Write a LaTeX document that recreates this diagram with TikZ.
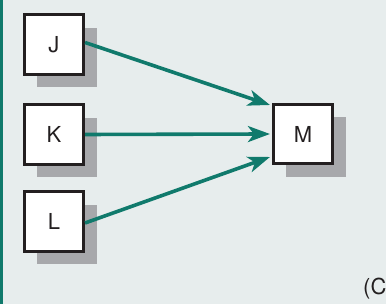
\documentclass[tikz,border=0pt]{standalone}
\usepackage{fontspec}
\setmainfont{TeX Gyre Heros}
\usepackage{tikz}
\usetikzlibrary{calc, positioning, arrows.meta, shadows}
\usepackage{xcolor}
\definecolor{paneBg}{RGB}{231, 237, 237}
\definecolor{linkTeal}{RGB}{16, 122, 108}
\definecolor{shadeGrey}{RGB}{167, 168, 171}
\definecolor{inkDark}{RGB}{35, 31, 32}

\tikzset{
  unit/.style={draw=inkDark, line width=2.6pt, fill=white, minimum size=59.5pt,
    inner sep=0pt, text=inkDark, font=\fontsize{22}{24}\selectfont,
    general shadow={fill=shadeGrey, shadow xshift=13pt, shadow yshift=-13pt}},
  link/.style={draw=linkTeal, line width=3.6pt,
    -{Stealth[length=22pt, width=16pt, inset=6pt]}}
}

\begin{document}
\begin{tikzpicture}[x=1pt, y=1pt]
  % background panel
  \fill[paneBg] (0,0) rectangle (386,304);
  \useasboundingbox (0,0) rectangle (386,304);
  \draw[linkTeal, line width=3pt] (1.5,0) -- (1.5,304);

  % the four units
  \node[unit] (J) at (54, 259.5) {J};
  \node[unit] (K) at (54, 169.5) {K};
  \node[unit] (L) at (54, 82.5) {L};
  \node[unit] (M) at (303, 170) {M};

  % links into M
  \draw[link] ([yshift=2pt]J.east) -- ([xshift=-2pt, yshift=29pt]M.west);
  \draw[link] (K.east) -- ([xshift=-2pt, yshift=0pt]M.west);
  \draw[link] ([yshift=-1.5pt]L.east) -- ([xshift=-2pt, yshift=-23pt]M.west);

  \node[anchor=base west, inner sep=0pt, text=inkDark,
    font=\fontsize{22}{24}\selectfont] (tag) at (363, 9) {(C};
\end{tikzpicture}
\end{document}
